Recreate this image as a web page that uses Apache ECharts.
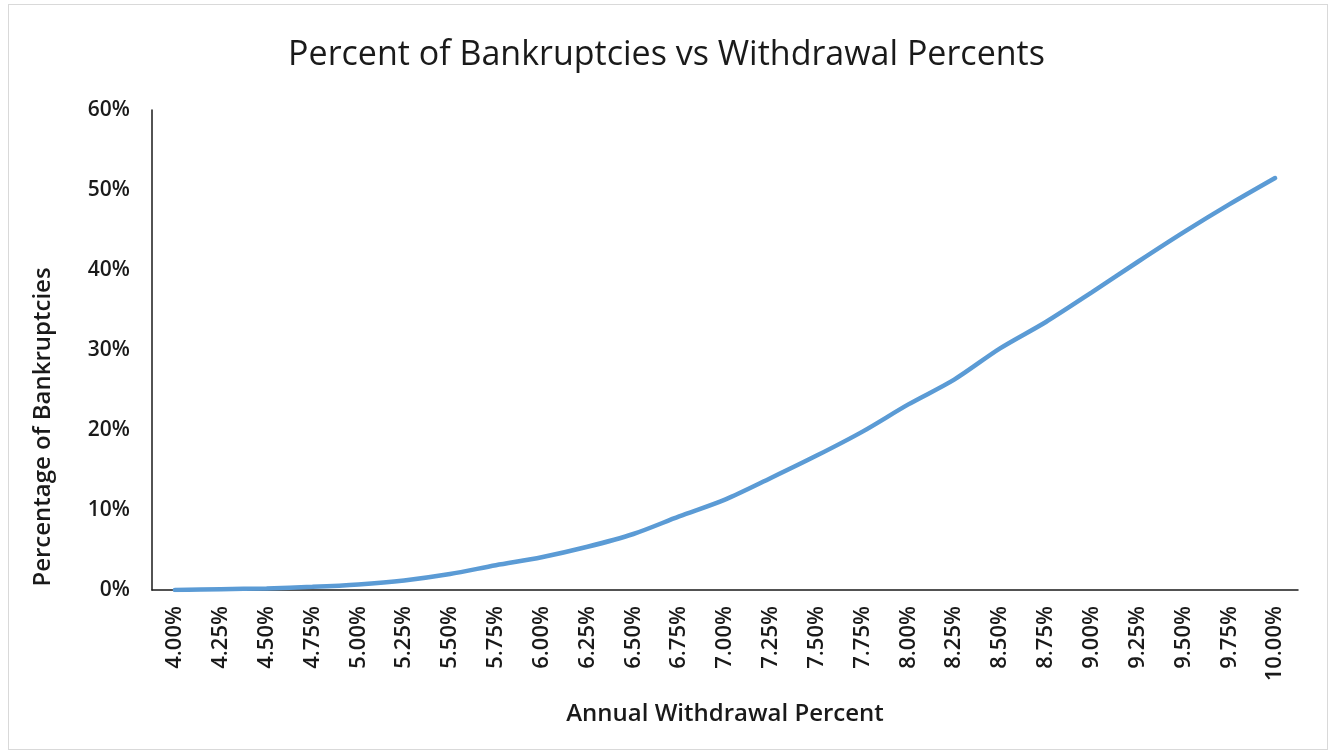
<!DOCTYPE html>
<html>
<head>
<meta charset="utf-8">
<script src="https://cdn.jsdelivr.net/npm/echarts@6/dist/echarts.min.js"></script>
<style>
  html, body { margin: 0; padding: 0; background: #fff; }
  #frame { position: absolute; left: 8px; top: 4px; width: 1320px; height: 746px; border: 1px solid #d9d9d9; box-sizing: border-box; }
  #chart { position: absolute; left: 0; top: 0; width: 1333px; height: 756px; }
</style>
</head>
<body>
<div id="frame"></div>
<div id="chart"></div>
<script>
// Withdrawal rates on the x axis
const withdrawalRates = ['4.00%', '4.25%', '4.50%', '4.75%', '5.00%', '5.25%', '5.50%', '5.75%', '6.00%',
  '6.25%', '6.50%', '6.75%', '7.00%', '7.25%', '7.50%', '7.75%', '8.00%', '8.25%', '8.50%', '8.75%',
  '9.00%', '9.25%', '9.50%', '9.75%', '10.00%'];
// Share of simulated portfolios that ran out of money (fraction)
const bankruptcyShare = [0.000, 0.001, 0.002, 0.004, 0.007, 0.012, 0.020, 0.031, 0.041,
  0.054, 0.070, 0.092, 0.113, 0.140, 0.168, 0.198, 0.232, 0.263, 0.302, 0.335,
  0.372, 0.410, 0.447, 0.482, 0.515];
// Y axis range
const yMin = 0, yMax = 0.6, yStep = 0.1;

const font = '"Open Sans", "Liberation Sans", sans-serif';
const ink = '#1a1a1a';
const chart = echarts.init(document.getElementById('chart'), null, { renderer: 'canvas' });
chart.setOption({
  animation: false,
  title: {
    text: 'Percent of Bankruptcies vs Withdrawal Percents',
    left: 'center', top: 33,
    textStyle: { fontFamily: font, fontSize: 34, fontWeight: 'normal', color: ink }
  },
  grid: { left: 152, right: 35, top: 110, bottom: 166 },
  // y axis title sits lower than the axis midpoint, so it is placed as its own text
  graphic: [{
    type: 'text',
    x: 43, y: 427,
    rotation: Math.PI / 2,
    style: {
      text: 'Percentage of Bankruptcies',
      fontFamily: font, fontSize: 24, fontWeight: 600, fill: ink,
      align: 'center', verticalAlign: 'middle'
    }
  }],
  xAxis: {
    type: 'category',
    data: withdrawalRates,
    boundaryGap: true,
    name: 'Annual Withdrawal Percent',
    nameLocation: 'middle',
    nameGap: 112,
    nameTextStyle: { fontFamily: font, fontSize: 24, color: ink, fontWeight: 600 },
    axisLine: { lineStyle: { color: ink, width: 1.5 } },
    axisTick: { show: false },
    axisLabel: { rotate: 90, interval: 0, margin: 16, fontFamily: font, fontSize: 22, color: ink, fontWeight: 600 },
    splitLine: { show: false }
  },
  yAxis: {
    type: 'value',
    min: yMin, max: yMax, interval: yStep,
    axisLine: { show: true, lineStyle: { color: ink, width: 1.5 } },
    axisTick: { show: false },
    splitLine: { show: false },
    axisLabel: {
      margin: 22, fontFamily: font, fontSize: 21, color: ink, fontWeight: 600,
      formatter: v => Math.round(v * 100) + '%'
    }
  },
  series: [{
    type: 'line',
    data: bankruptcyShare,
    smooth: 0.3,
    symbol: 'none',
    lineStyle: { color: '#5b9bd5', width: 4.5, cap: 'round' }
  }]
});
</script>
</body>
</html>
